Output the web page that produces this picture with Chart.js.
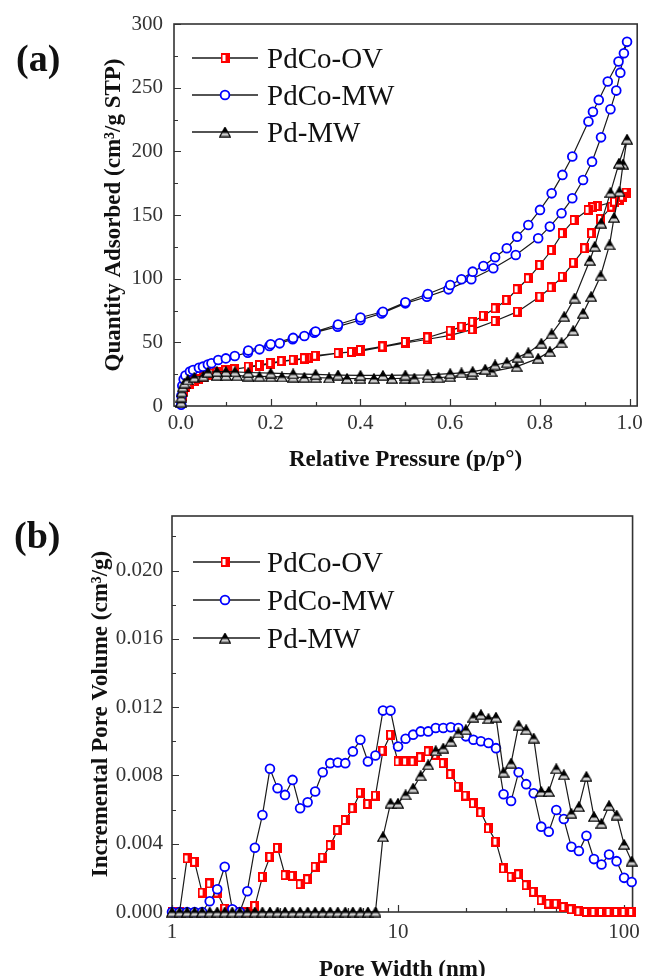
<!DOCTYPE html>
<html>
<head>
<meta charset="utf-8">
<script src="https://cdn.jsdelivr.net/npm/chart.js@4/dist/chart.umd.min.js"></script>
<style>
  html, body { margin: 0; padding: 0; background: #fff; }
  #wrap { position: relative; width: 648px; height: 976px; overflow: hidden; }
  canvas { position: absolute; left: 0; }
</style>
</head>
<body>
<div id="wrap">
  <canvas id="isoterma" width="648" height="488" style="top:0"></canvas>
  <canvas id="poros" width="648" height="500" style="top:488px"></canvas>
</div>
<script>
// ---- (a) isotermas: adsorcao seguida de dessorcao ----
const pressaoOV = [0.001, 0.003, 0.006, 0.01, 0.02, 0.03, 0.04, 0.05, 0.06, 0.07, 0.08, 0.10, 0.12, 0.15, 0.175, 0.20, 0.225, 0.25, 0.275, 0.30,
  0.35, 0.40, 0.45, 0.50, 0.55, 0.60, 0.65, 0.70, 0.75, 0.80, 0.825, 0.85, 0.875, 0.90, 0.915, 0.935, 0.96, 0.977, 0.992,
  0.984, 0.966, 0.929, 0.918, 0.907, 0.876, 0.85, 0.826, 0.80, 0.774, 0.749, 0.726, 0.70, 0.674, 0.65, 0.626, 0.60, 0.55, 0.50, 0.45,
  0.40, 0.38, 0.35, 0.30, 0.285, 0.275, 0.25, 0.225, 0.20, 0.175, 0.15];
const quantOV = [3, 8, 12, 15, 17.5, 19.5, 21, 22.5, 24, 25.5, 26.5, 28, 29, 30.6, 31.7, 33.2, 35, 36, 37, 39,
  41.5, 43, 46.4, 49.5, 52.4, 55.5, 60.2, 66.8, 74.1, 85.9, 93.2, 101.6, 112.6, 123.9, 135.7, 146.9, 156.6, 161.8, 167.6,
  164.4, 160.5, 157.1, 156.1, 154, 146.1, 135.7, 122.5, 110.8, 100.3, 91.7, 83.3, 76.7, 70.9, 66.2, 62.3, 59.2, 53.8, 50.3, 46.8,
  44, 42.5, 41.6, 39.5, 38, 37.5, 36.3, 35.3, 33.8, 32.2, 31];

const pressaoMW = [0.0005, 0.001, 0.003, 0.006, 0.01, 0.02, 0.027, 0.04, 0.049, 0.06, 0.068, 0.083, 0.10, 0.12, 0.149, 0.175, 0.197, 0.22, 0.249, 0.275,
  0.297, 0.349, 0.40, 0.447, 0.50, 0.548, 0.596, 0.647, 0.696, 0.746, 0.796, 0.822, 0.848, 0.872, 0.896, 0.916, 0.936, 0.957, 0.970, 0.979, 0.987, 0.994,
  0.975, 0.951, 0.931, 0.918, 0.908, 0.872, 0.850, 0.826, 0.800, 0.774, 0.749, 0.726, 0.700, 0.674, 0.650, 0.625, 0.600, 0.55, 0.50, 0.45,
  0.40, 0.35, 0.30, 0.25, 0.20, 0.15];
const quantMW = [1, 8, 16, 21, 24, 27, 28.3, 30, 30.9, 32.5, 33.5, 36.1, 37.4, 39.3, 41.9, 44.5, 47.1, 49.2, 52.4, 55,
  57.6, 62.3, 67.5, 72.7, 80.6, 85.8, 91.6, 99.5, 108.2, 118.6, 131.7, 140.9, 151.4, 163.1, 177.5, 191.9, 211, 233, 247.7, 261.8, 277, 286,
  270.5, 254.8, 240.4, 231, 223.4, 195.9, 181.5, 167, 154, 142.2, 133, 123.9, 116.8, 110, 105.5, 99.5, 95, 88, 81.5, 74,
  69.5, 64, 58.5, 53.5, 48.5, 43.5];

const pressaoPd = [0.0005, 0.001, 0.002, 0.004, 0.008, 0.015, 0.03, 0.05, 0.08, 0.10, 0.125, 0.15, 0.175, 0.20, 0.225, 0.25, 0.275, 0.30, 0.33, 0.37,
  0.40, 0.43, 0.47, 0.50, 0.52, 0.55, 0.574, 0.60, 0.648, 0.692, 0.748, 0.796, 0.822, 0.848, 0.874, 0.896, 0.914, 0.935, 0.955, 0.965, 0.977, 0.985, 0.994,
  0.976, 0.957, 0.936, 0.922, 0.911, 0.877, 0.854, 0.826, 0.803, 0.774, 0.750, 0.726, 0.700, 0.678, 0.650, 0.625, 0.600, 0.55, 0.50, 0.45,
  0.40, 0.35, 0.30, 0.25, 0.20, 0.15, 0.12, 0.10, 0.08, 0.06];
const quantPd = [3, 7, 11, 15, 18, 20.5, 22.5, 23.5, 24, 24, 23.8, 23.5, 23.2, 23, 22.8, 22.6, 22.4, 22.3, 22, 21.6,
  21.5, 21.5, 21.6, 21.7, 21.8, 22, 22.2, 23, 24.9, 27, 30.9, 37.4, 42.7, 49.7, 59.2, 72.8, 85.9, 102.1, 126.5, 148, 168.4, 190, 209.5,
  190.6, 167.6, 143.6, 125.3, 114.3, 84.7, 70.2, 56.6, 49.2, 41.9, 38.2, 34, 32.2, 28.8, 27, 26, 25.4, 24.5, 24.2, 24,
  24, 24.3, 24.8, 25.2, 25.8, 26.3, 26.8, 27, 27, 26.5];

// ---- (b) distribuicao de poros ----
const larguraPoro = [1.000, 1.080, 1.166, 1.259, 1.359, 1.468, 1.585, 1.711, 1.848, 1.995,
  2.154, 2.326, 2.512, 2.712, 2.929, 3.162, 3.415, 3.687, 3.981, 4.299,
  4.642, 5.012, 5.412, 5.843, 6.310, 6.813, 7.356, 7.943, 8.577, 9.261,
  10.00, 10.80, 11.66, 12.59, 13.59, 14.68, 15.85, 17.11, 18.48, 19.95,
  21.54, 23.26, 25.12, 27.12, 29.29, 31.62, 34.15, 36.87, 39.81, 42.99,
  46.42, 50.12, 54.12, 58.43, 63.10, 68.13, 73.56, 79.43, 85.77, 92.61,
  100.0, 108.0];
const volOV = [0, 0, 0.00314, 0.00294, 0.00114, 0.00167, 0.00114, 0.0002, 0.00004, 0,
  0, 0.00035, 0.00206, 0.00323, 0.00376, 0.00216, 0.00212, 0.00163, 0.00192, 0.00265,
  0.00319, 0.00392, 0.0048, 0.00539, 0.00608, 0.007, 0.00633, 0.00682, 0.00945, 0.01039,
  0.00882, 0.00882, 0.00882, 0.00906, 0.00941, 0.00921, 0.00872, 0.00808, 0.00735, 0.00682,
  0.00637, 0.00584, 0.0049, 0.00412, 0.00255, 0.00206, 0.00221, 0.00157, 0.00118, 0.00069,
  0.00049, 0.00049, 0.00029, 0.00016, 0.00004, 0, 0, 0, 0, 0,
  0, 0];
const volMW = [0, 0, 0, 0, 0, 0.00063, 0.00133, 0.00265, 0.00016, 0,
  0.00122, 0.00376, 0.00568, 0.00839, 0.00725, 0.00686, 0.00774, 0.00608, 0.00643, 0.00706,
  0.00819, 0.00872, 0.00876, 0.00872, 0.00941, 0.01009, 0.00882, 0.00917, 0.0118, 0.0118,
  0.0097, 0.01015, 0.01039, 0.01058, 0.01058, 0.01078, 0.01078, 0.01082, 0.01078, 0.01029,
  0.01009, 0.01, 0.0099, 0.0096, 0.0069, 0.0065, 0.00819, 0.00749, 0.00696, 0.005,
  0.0047, 0.00598, 0.00545, 0.00382, 0.00357, 0.00447, 0.0031, 0.00278, 0.00337, 0.00298,
  0.002, 0.00176];
const volPd = [0, 0, 0, 0, 0, 0, 0, 0, 0, 0,
  0, 0, 0, 0, 0, 0, 0, 0, 0, 0,
  0, 0, 0, 0, 0, 0, 0, 0, 0.00441, 0.00637,
  0.00637, 0.00686, 0.00725, 0.00798, 0.00862, 0.00945, 0.0096, 0.01, 0.01049, 0.01068,
  0.01141, 0.01156, 0.01133, 0.01141, 0.00819, 0.00872, 0.01094, 0.01068, 0.01019, 0.00706,
  0.00706, 0.00839, 0.00804, 0.00578, 0.00617, 0.00794, 0.00559, 0.00519, 0.00623, 0.00568,
  0.00396, 0.00298];

// marcas dos eixos
const ticksA = { xMaior: [0, 0.2, 0.4, 0.6, 0.8, 1.0], xMenor: [0.1, 0.3, 0.5, 0.7, 0.9],
  yMaior: [0, 50, 100, 150, 200, 250, 300], yMenor: [25, 75, 125, 175, 225, 275] };
const ticksB = { xMaior: [1, 10, 100], xMenor: [2, 3, 4, 5, 6, 7, 8, 9, 20, 30, 40, 50, 60, 70, 80, 90],
  yMaior: [0, 0.004, 0.008, 0.012, 0.016, 0.020], yMenor: [0.002, 0.006, 0.010, 0.014, 0.018, 0.022] };

const serif = '"Liberation Serif", "Times New Roman", serif';
Chart.defaults.font.family = serif;
Chart.defaults.font.size = 21;
Chart.defaults.color = '#333';

// marcadores no estilo Origin
function marcadorQuadrado() {
  const c = document.createElement('canvas');
  c.width = 9; c.height = 10;
  const g = c.getContext('2d');
  g.fillStyle = '#ff0000'; g.fillRect(0, 0, 9, 10);
  g.fillStyle = '#fff'; g.fillRect(2, 2, 3, 6);
  return c;
}
function marcadorTriangulo() {
  const c = document.createElement('canvas');
  c.width = 12; c.height = 11;
  const g = c.getContext('2d');
  g.beginPath(); g.moveTo(6, 0.8); g.lineTo(11.3, 10.2); g.lineTo(0.7, 10.2); g.closePath();
  g.fillStyle = '#cfcfcf'; g.fill();
  g.save(); g.clip(); g.fillStyle = '#000'; g.fillRect(0, 0, 12, 6.5); g.restore();
  g.strokeStyle = '#000'; g.lineWidth = 1.2; g.stroke();
  return c;
}
const quadrado = marcadorQuadrado();
const triangulo = marcadorTriangulo();

function serie(label, xs, ys, estilo, ordem) {
  const ds = {
    label: label,
    data: xs.map((v, i) => ({ x: v, y: ys[i] })),
    borderColor: '#1a1a1a', borderWidth: 1.2, tension: 0, clip: false, order: ordem,
    pointStyle: estilo, pointRadius: 4.4, pointBorderWidth: 1.8,
    pointBorderColor: '#0000ff', pointBackgroundColor: '#fff'
  };
  return ds;
}

function desenhaMarcador(ctx, ds, x, y) {
  if (typeof ds.pointStyle === 'object') {
    const s = ds.pointStyle;
    ctx.drawImage(s, x - s.width / 2, y - s.height / 2);
  } else {
    ctx.beginPath(); ctx.arc(x, y, ds.pointRadius, 0, Math.PI * 2);
    ctx.fillStyle = ds.pointBackgroundColor; ctx.fill();
    ctx.strokeStyle = ds.pointBorderColor; ctx.lineWidth = ds.pointBorderWidth; ctx.stroke();
  }
}

// moldura e marcas para dentro
const molduraPlugin = {
  id: 'moldura',
  beforeDatasetsDraw(chart, args, opts) {
    const { ctx, chartArea: a, scales: { x, y } } = chart;
    ctx.save();
    ctx.strokeStyle = '#333';
    ctx.lineWidth = 1.2;
    ctx.beginPath();
    const marcaX = (vals, len) => vals.forEach(v => {
      const px = Math.round(x.getPixelForValue(v)) + 0.5;
      ctx.moveTo(px, a.bottom); ctx.lineTo(px, a.bottom - len);
    });
    const marcaY = (vals, len) => vals.forEach(v => {
      const py = Math.round(y.getPixelForValue(v)) + 0.5;
      ctx.moveTo(a.left, py); ctx.lineTo(a.left + len, py);
    });
    marcaX(opts.xMaior, 7); marcaX(opts.xMenor, 4);
    marcaY(opts.yMaior, 7); marcaY(opts.yMenor, 4);
    ctx.stroke();
    ctx.lineWidth = 1.6;
    ctx.strokeRect(a.left, a.top, a.right - a.left, a.bottom - a.top);
    ctx.restore();
  }
};

// legenda com linha + marcador, e o rotulo do painel
const legendaPlugin = {
  id: 'legenda',
  afterDraw(chart, args, opts) {
    const ctx = chart.ctx;
    ctx.save();
    chart.data.datasets.forEach((ds, i) => {
      const y = opts.linhas[i];
      ctx.strokeStyle = '#1a1a1a'; ctx.lineWidth = 1.3;
      ctx.beginPath(); ctx.moveTo(opts.x0, y); ctx.lineTo(opts.x1, y); ctx.stroke();
      desenhaMarcador(ctx, ds, opts.xm, y);
      ctx.fillStyle = '#111';
      ctx.font = '29px ' + serif;
      ctx.textBaseline = 'alphabetic';
      ctx.fillText(ds.label, opts.xt, y + 10);
    });
    ctx.fillStyle = '#111';
    ctx.font = 'bold 38px ' + serif;
    ctx.fillText(opts.painel, opts.px, opts.py);
    ctx.restore();
  }
};

const tituloFonte = { family: serif, size: 23, weight: 'bold' };

// ---- grafico (a) ----
new Chart(document.getElementById('isoterma'), {
  type: 'line',
  data: {
    datasets: [
      serie('PdCo-OV', pressaoOV, quantOV, quadrado, 3),
      serie('PdCo-MW', pressaoMW, quantMW, 'circle', 2),
      serie('Pd-MW', pressaoPd, quantPd, triangulo, 1)
    ]
  },
  options: {
    responsive: false, animation: false, devicePixelRatio: 1, events: [],
    layout: { padding: { top: 24, right: 8.5, left: 0, bottom: 0 } },
    plugins: {
      legend: { display: false }, tooltip: { enabled: false },
      moldura: ticksA,
      legenda: { linhas: [58, 95, 132], x0: 192, x1: 258, xm: 225, xt: 267, painel: '(a)', px: 16, py: 71 }
    },
    scales: {
      x: {
        type: 'linear', min: -0.0155, max: 1.0166,
        grid: { display: false, drawTicks: false }, border: { display: false },
        ticks: { stepSize: 0.2, includeBounds: false, padding: 5, callback: v => v.toFixed(1) },
        title: { display: true, text: 'Relative Pressure (p/p°)', color: '#111', font: tituloFonte, padding: { top: 0, bottom: 13.7 } },
        afterFit: s => { s.height = 82; }
      },
      y: {
        min: 0, max: 300,
        grid: { display: false, drawTicks: false }, border: { display: false },
        ticks: { stepSize: 50, includeBounds: false, padding: 11 },
        title: { display: true, text: 'Quantity Adsorbed (cm³/g STP)', color: '#111', font: tituloFonte, padding: { top: 100, bottom: 0 } },
        afterFit: s => { s.width = 174; }
      }
    }
  },
  plugins: [molduraPlugin, legendaPlugin]
});

// ---- grafico (b) ----
new Chart(document.getElementById('poros'), {
  type: 'line',
  data: {
    datasets: [
      serie('PdCo-OV', larguraPoro, volOV, quadrado, 3),
      serie('PdCo-MW', larguraPoro, volMW, 'circle', 2),
      serie('Pd-MW', larguraPoro, volPd, triangulo, 1)
    ]
  },
  options: {
    responsive: false, animation: false, devicePixelRatio: 1, events: [],
    layout: { padding: { top: 28, right: 8, left: 0, bottom: 0 } },
    plugins: {
      legend: { display: false }, tooltip: { enabled: false },
      moldura: ticksB,
      legenda: { linhas: [74, 112, 150], x0: 193, x1: 260, xm: 225, xt: 267, painel: '(b)', px: 14, py: 60 }
    },
    scales: {
      x: {
        type: 'logarithmic', min: 1, max: 109,
        grid: { display: false, drawTicks: false }, border: { display: false },
        afterBuildTicks: s => { s.ticks = ticksB.xMaior.map(v => ({ value: v })); },
        ticks: { padding: 8, autoSkip: false, maxRotation: 0, callback: v => String(v) },
        title: { display: true, text: 'Pore Width (nm)', color: '#111', font: tituloFonte, padding: { top: 0, bottom: 3.7 } },
        afterFit: s => { s.height = 76; }
      },
      y: {
        min: 0, max: 0.0232,
        grid: { display: false, drawTicks: false }, border: { display: false },
        ticks: { stepSize: 0.004, includeBounds: false, padding: 9, callback: v => v.toFixed(3) },
        title: { display: true, text: 'Incremental Pore Volume (cm³/g)', color: '#111', font: tituloFonte, padding: { top: 87, bottom: 0 } },
        afterFit: s => { s.width = 172; }
      }
    }
  },
  plugins: [molduraPlugin, legendaPlugin]
});
</script>
</body>
</html>
